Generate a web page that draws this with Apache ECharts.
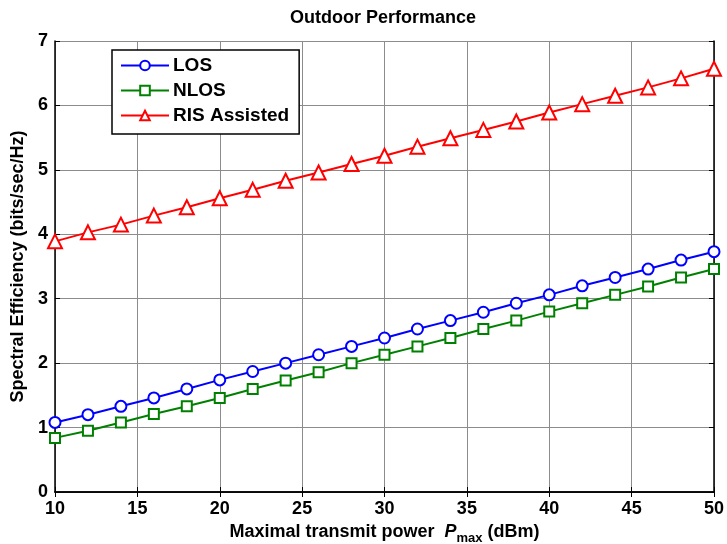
<!DOCTYPE html>
<html><head><meta charset="utf-8">
<script src="https://cdn.jsdelivr.net/npm/echarts@6/dist/echarts.min.js"></script>
<style>html,body{margin:0;padding:0;background:#fff}#c{width:727px;height:544px}</style>
</head><body><div id="c"></div>
<script>
var power = [10,12,14,16,18,20,22,24,26,28,30,32,34,36,38,40,42,44,46,48,50];
var losValues = [1.08,1.20,1.33,1.46,1.60,1.74,1.87,2.00,2.13,2.26,2.39,2.53,2.66,2.79,2.93,3.06,3.20,3.33,3.46,3.60,3.73];
var nlosValues = [0.84,0.95,1.08,1.21,1.33,1.46,1.60,1.73,1.86,2.00,2.13,2.26,2.39,2.53,2.66,2.80,2.93,3.06,3.19,3.33,3.46];
var risValues = [3.89,4.03,4.15,4.29,4.42,4.56,4.69,4.83,4.96,5.09,5.22,5.36,5.49,5.62,5.75,5.89,6.02,6.15,6.28,6.42,6.57];
var seriesNames = ['LOS','NLOS','RIS Assisted'];

function pairs(v){ return power.map(function(x,i){ return [x, v[i]]; }); }
var FONT = 'Liberation Sans, Arial, sans-serif';
var chart = echarts.init(document.getElementById('c'));
var gridStyle = {show:true, lineStyle:{color:'#8c8c8c', width:1}};
function mk(name, data, color, symbol, size){
  return {name:name, type:'line', data:pairs(data), symbol:symbol, symbolSize:size,
    showSymbol:true, lineStyle:{color:color,width:2}, itemStyle:{color:color,borderColor:color,borderWidth:2},
    emphasis:{disabled:true}, z:3, animation:false};
}
chart.setOption({
  animation:false,
  title:{text:'Outdoor Performance', left:383, textAlign:'center', top:9, padding:0,
    textStyle:{fontFamily:FONT, fontSize:18, fontWeight:'bold', color:'#000'}},
  grid:{left:55, right:13, top:41, bottom:52, containLabel:false, outerBoundsMode:'none'},
  legend:{orient:'vertical', left:112, top:50, itemWidth:48, itemHeight:12, itemGap:6,
    padding:[6,10,9,8], borderColor:'#000', borderWidth:1.5, backgroundColor:'#fff',
    textStyle:{fontFamily:FONT, fontSize:19, fontWeight:'bold', color:'#000', padding:[0,0,0,-1]},
    data:seriesNames},
  xAxis:[{type:'value', min:10, max:50, interval:5, position:'bottom',
    axisLine:{lineStyle:{color:'#000',width:1.5}}, axisTick:{inside:true,length:5,lineStyle:{color:'#000'}},
    axisLabel:{fontFamily:FONT, fontSize:18, fontWeight:'bold', color:'#000', margin:8},
    splitLine:gridStyle,
    name:'{a|Maximal transmit power  }{i|P}{s|max}{a| (dBm)}', nameLocation:'middle', nameGap:25,
    nameTextStyle:{rich:{
      a:{fontFamily:FONT, fontSize:18, fontWeight:'bold', color:'#000'},
      i:{fontFamily:FONT, fontSize:18, fontWeight:'bold', fontStyle:'italic', color:'#000'},
      s:{fontFamily:FONT, fontSize:13, fontWeight:'bold', color:'#000', verticalAlign:'bottom', padding:[14,0,0,0]}
    }}},
    {type:'value', min:10, max:50, interval:5, position:'top',
    axisLine:{lineStyle:{color:'#000',width:1.5}}, axisTick:{inside:true,length:5,lineStyle:{color:'#000'}},
    axisLabel:{show:false}, splitLine:{show:false}}],
  yAxis:[{type:'value', min:0, max:7, interval:1, position:'left',
    axisLine:{show:true, lineStyle:{color:'#000',width:1.5}}, axisTick:{show:true,inside:true,length:5,lineStyle:{color:'#000'}},
    axisLabel:{fontFamily:FONT, fontSize:18, fontWeight:'bold', color:'#000', margin:7},
    splitLine:gridStyle,
    name:'Spectral Efficiency (bits/sec/Hz)', nameLocation:'middle', nameGap:28,
    nameTextStyle:{fontFamily:FONT, fontSize:18, fontWeight:'bold', color:'#000'}},
    {type:'value', min:0, max:7, interval:1, position:'right',
    axisLine:{show:true, lineStyle:{color:'#000',width:1.5}}, axisTick:{show:true,inside:true,length:5,lineStyle:{color:'#000'}},
    axisLabel:{show:false}, splitLine:{show:false}}],
  series:[
    mk('LOS', losValues, '#0000ff', 'emptyCircle', 11),
    mk('NLOS', nlosValues, '#008000', 'emptyRect', 10),
    mk('RIS Assisted', risValues, '#ff0000', 'emptyTriangle', 14)
  ]
});
</script></body></html>
